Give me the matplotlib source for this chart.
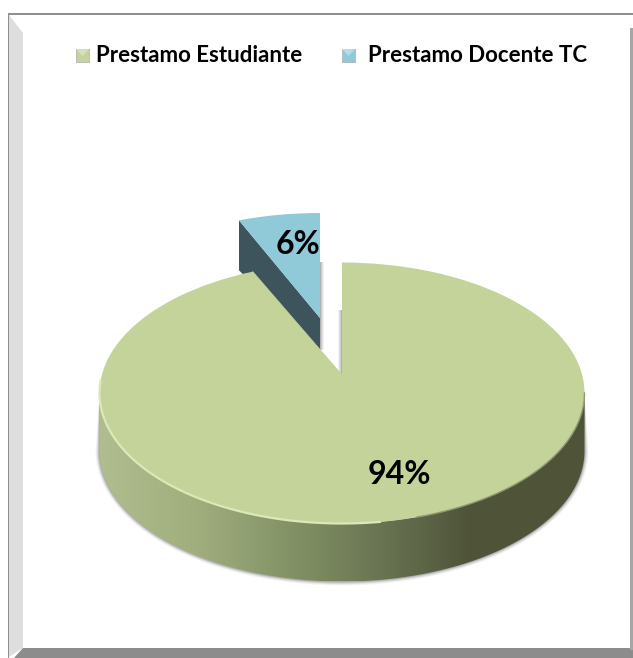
import numpy as np
import matplotlib
matplotlib.use("Agg")
import matplotlib.pyplot as plt
from matplotlib.patches import Polygon, Rectangle
from matplotlib.transforms import Affine2D
from matplotlib.colors import LinearSegmentedColormap

categories = ["Prestamo Estudiante", "Prestamo Docente TC"]
shares = [94, 6]
colors = ["#c3d39a", "#90cad9"]

W, H = 633, 658
plt.rcParams["font.family"] = ["Lato", "DejaVu Sans"]
fig = plt.figure(figsize=(W / 100, H / 100), dpi=100, facecolor="white")
ax = fig.add_axes([0, 0, 1, 1])


def set_limits():
    ax.set_xlim(0, W)
    ax.set_ylim(H, 0)
    ax.set_aspect("auto")
    ax.axis("off")


# Frame with bevel
ax.add_patch(Rectangle((0, 0), W, H, fc="white", ec="none", zorder=0))
ax.add_patch(Polygon([(9, 15), (23, 33), (23, 648), (9, 657)], fc="#dedede", ec="none", zorder=1.5))
ax.add_patch(Polygon([(23, 648), (W, 648), (W, H), (14, H)], fc="#8c8c8c", ec="none", zorder=1.5))
ax.add_patch(Rectangle((630, 28), 3, 622, fc="#a6a6a6", ec="none", zorder=1.5))
ax.add_patch(Rectangle((8, 13), W - 8, 2.2, fc="#8f8f8f", ec="none", zorder=1.6))
ax.add_patch(Rectangle((7.5, 13), 1.8, H - 13, fc="#8f8f8f", ec="none", zorder=1.6))

# Geometry of the projected pie
cx, cy, rx, ry, depth = 342, 393, 242.5, 130.5, 58

wedges, _ = ax.pie(shares, colors=colors, startangle=90, counterclock=False,
                   wedgeprops=dict(linewidth=0))
green, blue = wedges


def ell(t, oy=0.0, grow=0.0):
    return np.c_[cx + (rx + grow) * np.cos(t), cy + oy - (ry + grow) * np.sin(t)]


# Soft drop shadow round the side wall
t = np.linspace(np.pi, 2 * np.pi, 200)
for g, al in zip([4, 3, 2, 1], [0.06, 0.10, 0.16, 0.25]):
    ax.add_patch(Polygon(np.r_[ell(t), ell(t, depth, g)[::-1]], fc="#555555", alpha=al, ec="none", zorder=1.8))

# Side wall with horizontal gradient
wall = Polygon(np.r_[ell(t), ell(t, depth)[::-1]], closed=True, transform=ax.transData, fc="none", ec="none")
ax.add_patch(wall)
cmap = LinearSegmentedColormap.from_list("side", [
    (0.00, "#b0bd8e"), (0.20, "#a0ae7e"), (0.42, "#7f8e62"),
    (0.60, "#667150"), (0.76, "#4f5439"), (1.00, "#4f5439")])
img = ax.imshow(np.linspace(0, 1, 256)[None, :], cmap=cmap, extent=(cx - rx, cx + rx, cy + depth + ry, cy),
                aspect="auto", zorder=2)
img.set_clip_path(wall)

# Top face of the large slice
green.set_transform(Affine2D().scale(rx, -ry).translate(cx, cy) + ax.transData)
green.set_zorder(4)
# Apex of the cut sits above the ellipse centre because of the perspective
apex_y = 375
a = np.deg2rad(90 + 360 * shares[1] / sum(shares))
lead = ell(np.array([a]))[0]
ax.add_patch(Polygon([(cx + 1, cy + 1), (cx, apex_y), lead, (lead[0] - 4, lead[1] + 8)],
                     fc=colors[0], ec=colors[0], lw=0.6, zorder=4))

# Light rim on the front-left edge, soft dark one on the front-right
rim = ell(np.linspace(np.pi * 0.97, 1.55 * np.pi, 200))
ax.plot(rim[:, 0], rim[:, 1], color="#dbe9b6", lw=1.6, zorder=5)
rim = ell(np.linspace(1.6 * np.pi, 2.0 * np.pi, 200))
ax.plot(rim[:, 0], rim[:, 1], color="#8f9a70", lw=1.0, zorder=5)

# Exploded slice
bx, by, bsx, bsy = 320, 318, 220, 105
blue.set_transform(Affine2D().scale(bsx, -bsy).translate(bx, by) + ax.transData)
blue.set_zorder(3)
frac = np.deg2rad(360 * shares[1] / sum(shares))
bl = (bx - bsx * np.sin(frac), by - bsy * np.cos(frac))
ax.add_patch(Polygon([bl, (bx, by), (bx, by + 32), (bl[0], bl[1] + 50)], fc="#3e545c", ec="none", zorder=2.8))

# Soft shadows along the cut
for i, al in enumerate([0.45, 0.3, 0.18, 0.08]):
    ax.add_patch(Rectangle((bx + i, 262), 1, 88, fc="#555555", alpha=al, ec="none", zorder=2.6))
    ax.add_patch(Rectangle((cx - 1 - i, 310), 1, apex_y - 310, fc="#555555", alpha=al, ec="none", zorder=2.6))

# Labels
ax.text(399, 474, f"{shares[0]}%", fontsize=23, fontweight="bold", color="black",
        ha="center", va="center", zorder=6)
ax.text(298, 245, f"{shares[1]}%", fontsize=23, fontweight="bold", color="black",
        ha="center", va="center", zorder=6)

# Legend
for name, col, mx, tx in zip(categories, colors, [76, 342], [96, 368]):
    ax.add_patch(Rectangle((mx, 49), 13, 13, fc=col, ec="#a0a0a0", lw=0.4, zorder=6))
    ax.add_patch(Polygon([(mx, 49), (mx + 13, 49), (mx + 6.5, 56)], fc="white", alpha=0.35, ec="none", zorder=6.1))
    ax.text(tx, 56, name, fontsize=16, fontweight="bold", color="black", ha="left", va="center", zorder=6)

set_limits()
fig.savefig("out.png", dpi=100, facecolor="white")
